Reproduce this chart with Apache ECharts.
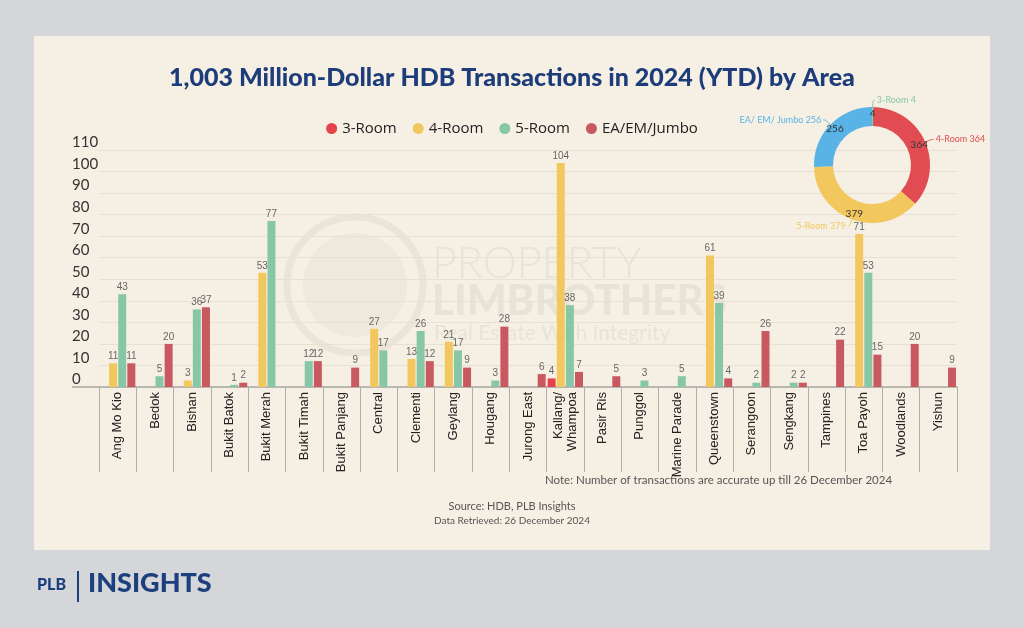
<!DOCTYPE html>
<html><head><meta charset="utf-8">
<script src="https://cdn.jsdelivr.net/npm/echarts@6/dist/echarts.min.js"></script>
<style>
html,body{margin:0;padding:0;background:#d5d6d9;}
#panel{position:absolute;left:34px;top:36px;width:956px;height:514px;background:#f6f0e4;}
#chart{position:absolute;left:0;top:0;width:1024px;height:628px;}
</style></head>
<body><div id="panel"></div><div id="chart"></div>
<script>
const categories = ['Ang Mo Kio','Bedok','Bishan','Bukit Batok','Bukit Merah','Bukit Timah','Bukit Panjang','Central','Clementi','Geylang','Hougang','Jurong East','Kallang/\nWhampoa','Pasir Ris','Punggol','Marine Parade','Queenstown','Serangoon','Sengkang','Tampines','Toa Payoh','Woodlands','Yishun'];
const room3 = [null,null,null,null,null,null,null,null,null,null,null,null,4,null,null,null,null,null,null,null,null,null,null];
const room4 = [11,null,3,null,53,null,null,27,13,21,null,null,104,null,null,null,61,null,null,null,71,null,null];
const room5 = [43,5,36,1,77,12,null,17,26,17,3,null,38,null,3,5,39,2,2,null,53,null,null];
const jumbo = [11,20,37,2,null,12,9,null,12,9,28,6,7,5,null,null,4,26,2,22,15,20,9];
const seriesNames = ['3-Room','4-Room','5-Room','EA/EM/Jumbo'];
const totalNames = ['3-Room','4-Room','5-Room','EA/ EM/ Jumbo'];
const totals = [4,364,379,256];
const yTicks = {min:0, max:110, interval:10};

const barColors = ['#e4434c','#f2c75e','#88c7a6','#c95960'];
const pieColors = ['#88c7a6','#e04c52','#f2c75e','#5ab3e6'];

const chart = echarts.init(document.getElementById('chart'), null, {renderer:'canvas'});

function barSeries(name, data, color){
  return {
    name, type:'bar', data, barWidth:8, barGap:'14%',
    itemStyle:{color},
    label:{show:true, position:'top', distance:2, fontSize:10, color:'#666', fontFamily:'Liberation Sans'}
  };
}

const pieData = totals.map((v,i)=>({name:totalNames[i], value:v, itemStyle:{color:pieColors[i]},
  label:{color:pieColors[i]}, labelLine:{lineStyle:{color:pieColors[i]}}}));

const option = {
  backgroundColor:'transparent',
  animation:false,
  title:{text:'1,003 Million-Dollar HDB Transactions in 2024 (YTD) by Area', left:'center', top:60,
    textStyle:{fontFamily:'Lato', fontWeight:900, fontSize:25, color:'#1d3c7a'}},
  legend:{data:seriesNames, top:116, left:'center', icon:'circle', itemWidth:11, itemHeight:11, itemGap:16,
    textStyle:{fontFamily:'Open Sans', fontSize:15, color:'#222'}},
  grid:{left:99, right:67, top:150, bottom:241},
  xAxis:{type:'category', data:categories,
    axisLine:{lineStyle:{color:'#a8a6a2', width:1.5}},
    axisTick:{show:true, length:85, lineStyle:{color:'#b0aea9'}},
    axisLabel:{interval:0, rotate:90, margin:5, fontSize:13, color:'#222', fontFamily:'Liberation Sans', lineHeight:14}},
  yAxis:{type:'value', min:yTicks.min, max:yTicks.max, interval:yTicks.interval,
    axisLine:{show:false}, axisTick:{show:false},
    splitLine:{lineStyle:{color:'#e8e1d3'}},
    axisLabel:{align:'left', margin:27, verticalAlign:'bottom', fontSize:15, color:'#333', fontFamily:'Lato'}},
  series:[
    barSeries(seriesNames[0], room3, barColors[0]),
    barSeries(seriesNames[1], room4, barColors[1]),
    barSeries(seriesNames[2], room5, barColors[2]),
    barSeries(seriesNames[3], jumbo, barColors[3]),
    {type:'pie', name:'totals', center:[872,165], radius:[39,58], startAngle:90, clockwise:true,
      data:pieData, avoidLabelOverlap:true,
      label:{show:true, position:'outside', formatter:'{b} {c}', fontSize:9, fontFamily:'Lato', distanceToLabelLine:2},
      labelLine:{show:true, smooth:0.6, length:7, length2:2, lineStyle:{width:1}}},
    {type:'pie', name:'inner', center:[872,165], radius:[39,58], startAngle:90, clockwise:true, silent:true,
      data:totals.map((v,i)=>({name:totalNames[i]+' ', value:v})),
      itemStyle:{color:'rgba(0,0,0,0)'},
      label:{show:true, position:'inside', formatter:'{c}', fontSize:10, color:'#333', fontFamily:'Lato'},
      labelLine:{show:false}}
  ],
  graphic:[
    {type:'line', silent:true, shape:{x1:72, y1:387, x2:99, y2:387}, style:{stroke:'#a8a6a2', lineWidth:1.5}},
    {type:'circle', silent:true, z:-1, shape:{cx:355, cy:285, r:68}, style:{fill:'none', stroke:'rgba(110,100,90,0.08)', lineWidth:7}},
    {type:'circle', silent:true, z:-1, shape:{cx:355, cy:285, r:52}, style:{fill:'rgba(110,100,90,0.05)'}},
    {type:'text', silent:true, z:-1, left:432, top:243, style:{text:'PROPERTY', font:'300 43px Lato', fill:'rgba(110,100,90,0.09)'}},
    {type:'text', silent:true, z:-1, left:432, top:280, style:{text:'LIMBROTHERS', font:'900 42px Lato', fill:'rgba(110,100,90,0.09)'}},
    {type:'text', silent:true, z:-1, left:434, top:323, style:{text:'Real Estate With Integrity', font:'400 21px Lato', fill:'rgba(110,100,90,0.09)'}},
    {type:'text', left:545, top:474, style:{text:'Note: Number of transactions are accurate up till 26 December 2024', font:'11.5px Lato', fill:'#555'}},
    {type:'text', left:'center', top:501, style:{text:'Source: HDB, PLB Insights', font:'11px Lato', fill:'#555'}},
    {type:'text', left:'center', top:516, style:{text:'Data Retrieved: 26 December 2024', font:'10px Lato', fill:'#555'}},
    {type:'text', left:37, top:577, style:{text:'PLB', font:'900 16px Lato', fill:'#1c3f7d'}},
    {type:'rect', left:77, top:571, shape:{width:2, height:31}, style:{fill:'#1c3f7d'}},
    {type:'text', left:88, top:570, style:{text:'INSIGHTS', font:'900 27px Lato', fill:'#1c3f7d'}}
  ]
};
chart.setOption(option);
</script></body></html>
